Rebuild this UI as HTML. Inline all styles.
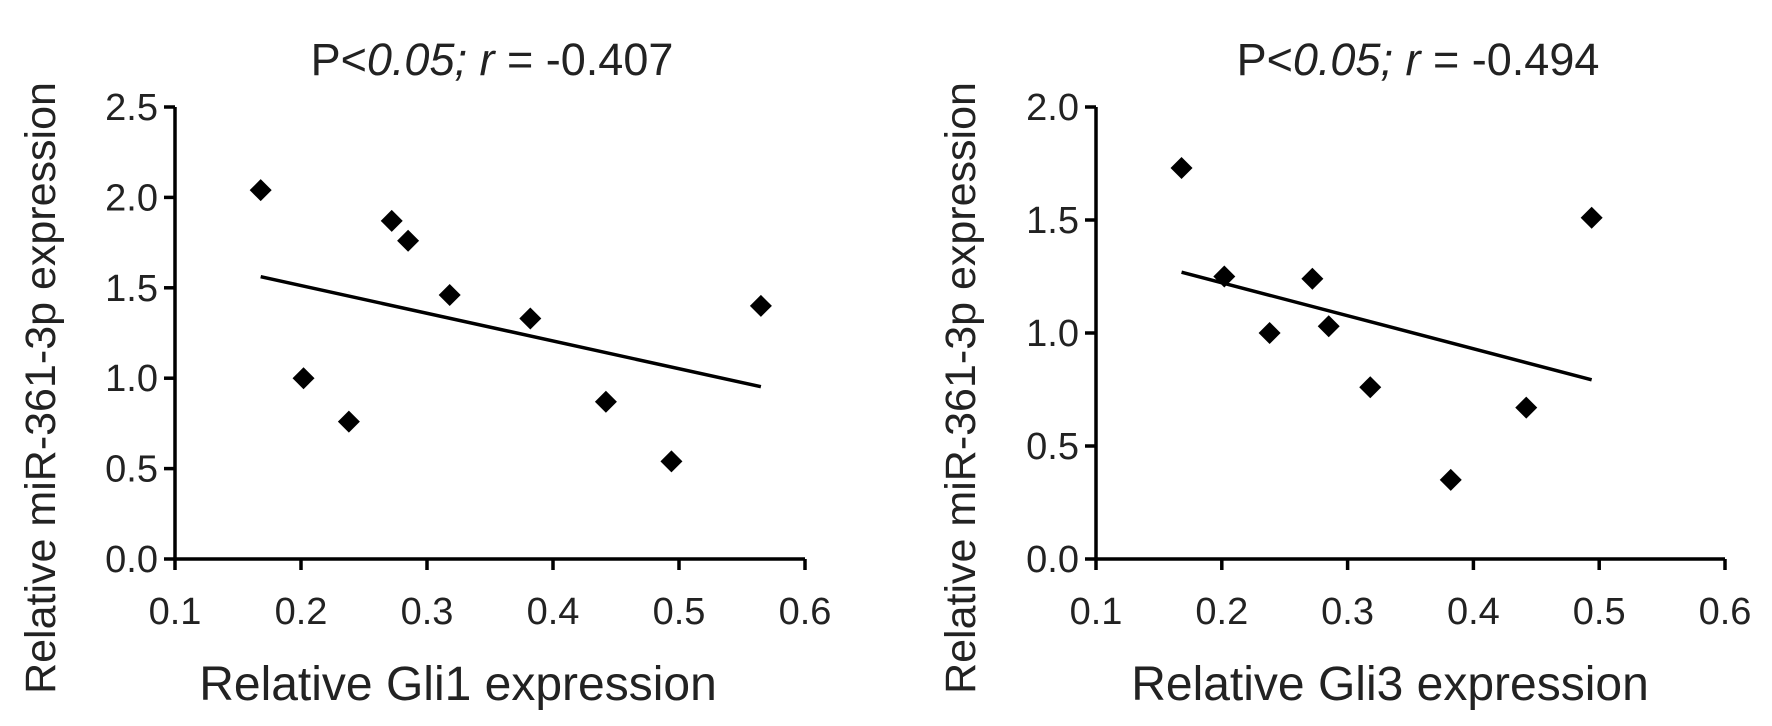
<!DOCTYPE html>
<html><head><meta charset="utf-8"><style>
html,body{margin:0;padding:0;background:#fff;}
svg{display:block;font-family:"Liberation Sans",Arial,sans-serif;}
</style></head><body>
<svg id="svg" width="1772" height="726" viewBox="0 0 1772 726"></svg>
<script>
const xTicks = [0.1,0.2,0.3,0.4,0.5,0.6];
const yTicksA = [0.0,0.5,1.0,1.5,2.0,2.5];
const yTicksB = [0.0,0.5,1.0,1.5,2.0];
const gli1X = [0.168,0.202,0.238,0.272,0.285,0.318,0.382,0.442,0.494,0.565];
const gli1Y = [2.04,1.00,0.76,1.87,1.76,1.46,1.33,0.87,0.54,1.40];
const gli3X = [0.168,0.202,0.238,0.272,0.285,0.318,0.382,0.442,0.494];
const gli3Y = [1.73,1.25,1.00,1.24,1.03,0.76,0.35,0.67,1.51];
const NS="http://www.w3.org/2000/svg";
const svg=document.getElementById('svg');
function mk(tag,attrs,parent){const e=document.createElementNS(NS,tag);for(const k in attrs)e.setAttribute(k,attrs[k]);(parent||svg).appendChild(e);return e;}
function panel(cfg){
  const g=mk('g',{});
  
  
  const X=v=>cfg.x0+(v-0.1)/(0.5)*(cfg.x1-cfg.x0);
  const Y=v=>cfg.y0-(v/cfg.ymax)*(cfg.y0-cfg.y1);
  const ya=mk('line',{x1:cfg.x0,y1:cfg.y0,x2:cfg.x0,y2:cfg.y1,stroke:'#000','stroke-width':3.5},g);
  
  
  const xa=mk('line',{x1:cfg.x0-1,y1:cfg.y0,x2:cfg.x1,y2:cfg.y0,stroke:'#000','stroke-width':3.5},g);
  
  
  xTicks.forEach(t=>{
    mk('line',{x1:X(t),y1:cfg.y0,x2:X(t),y2:cfg.y0+11,stroke:'#000','stroke-width':3.5},g);
    const tx=mk('text',{x:X(t),y:cfg.y0+65,'text-anchor':'middle','font-size':38,fill:'#222'},g);
    tx.textContent=t.toFixed(1);
    
    
  });
  cfg.yt.forEach(t=>{
    mk('line',{x1:cfg.x0-11,y1:Y(t),x2:cfg.x0,y2:Y(t),stroke:'#000','stroke-width':3.5},g);
    const tx=mk('text',{x:cfg.x0-17,y:Y(t)+13,'text-anchor':'end','font-size':38,fill:'#222'},g);
    tx.textContent=t.toFixed(1);
    
    
  });
  const n=cfg.xs.length;let mx=0,my=0;for(let i=0;i<n;i++){mx+=cfg.xs[i];my+=cfg.ys[i];}mx/=n;my/=n;
  let sxy=0,sxx=0;for(let i=0;i<n;i++){sxy+=(cfg.xs[i]-mx)*(cfg.ys[i]-my);sxx+=(cfg.xs[i]-mx)**2;}
  const b=sxy/sxx,a=my-b*mx;const xmin=Math.min(...cfg.xs),xmax=Math.max(...cfg.xs);
  const tl=mk('line',{x1:X(xmin),y1:Y(a+b*xmin),x2:X(xmax),y2:Y(a+b*xmax),stroke:'#000','stroke-width':3.5},g);
  
  
  cfg.xs.forEach((v,i)=>{
    const cx=X(v),cy=Y(cfg.ys[i]),r=11;
    const p=mk('polygon',{points:`${cx},${cy-r} ${cx+r},${cy} ${cx},${cy+r} ${cx-r},${cy}`,fill:'#000'},g);
    
    
  });
  const t=mk('text',{x:cfg.tx,y:75,'text-anchor':'middle','font-size':45,fill:'#222'},g);
  t.innerHTML='P&lt;<tspan font-style="italic">0.05;</tspan> <tspan font-style="italic">r</tspan> = '+cfg.r;
  
  
  const xt=mk('text',{x:cfg.xtx,y:700,'text-anchor':'middle','font-size':48,fill:'#222'},g);
  xt.textContent=cfg.xtitle;
  
  
  const yt=mk('text',{x:0,y:0,'text-anchor':'middle','font-size':43,fill:'#222',transform:`translate(${cfg.ytx},388) rotate(-90)`},g);
  yt.textContent='Relative miR-361-3p expression';
  
  
}
panel({name:'gli1-scatter',x0:175,x1:805,y0:559,y1:107,ymax:2.5,yt:yTicksA,xs:gli1X,ys:gli1Y,r:'-0.407',tx:492,xtx:458,ytx:55,xtitle:'Relative Gli1 expression'});
panel({name:'gli3-scatter',x0:1096,x1:1725,y0:559,y1:107,ymax:2.0,yt:yTicksB,xs:gli3X,ys:gli3Y,r:'-0.494',tx:1418,xtx:1390,ytx:975,xtitle:'Relative Gli3 expression'});
</script>
</body></html>
